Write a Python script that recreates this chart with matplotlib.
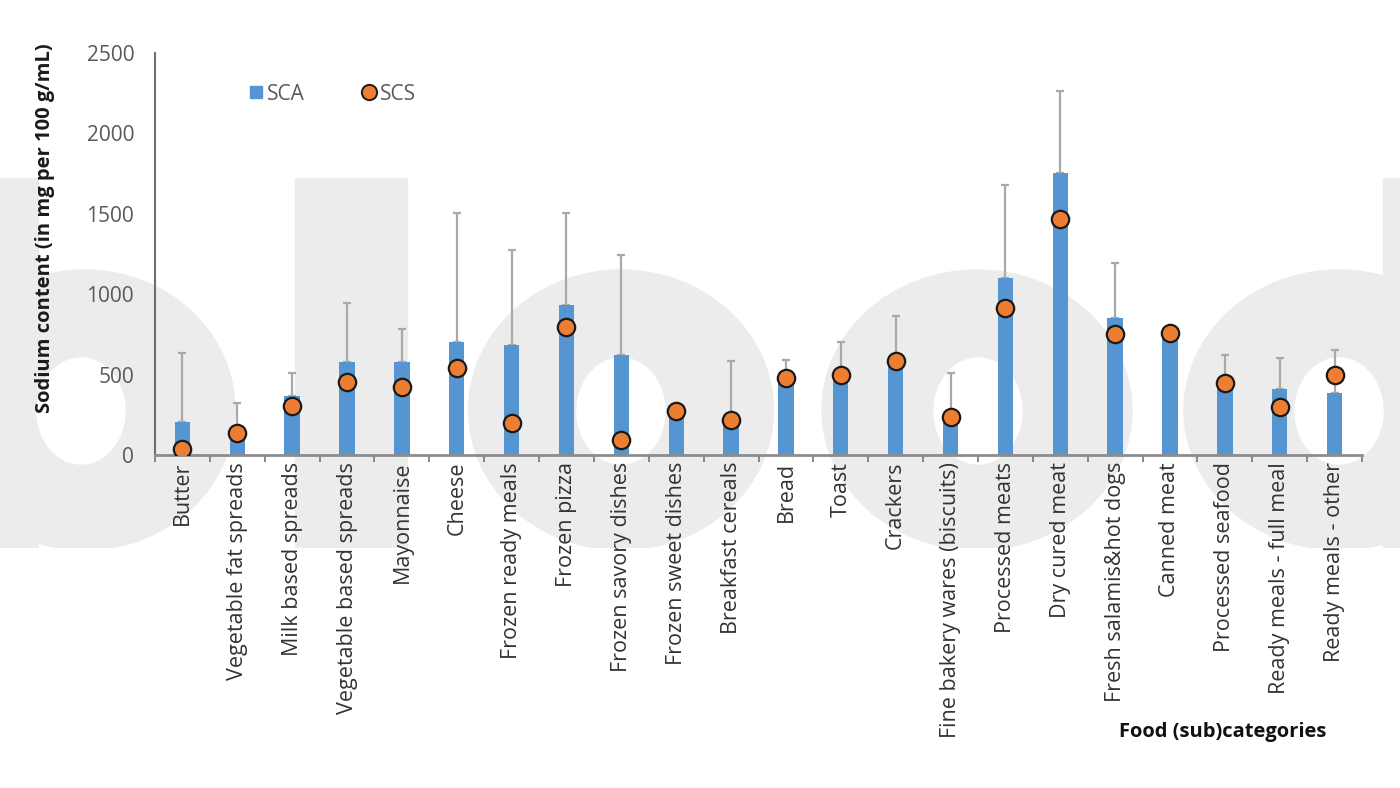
import numpy as np
import matplotlib
matplotlib.use("Agg")
import matplotlib.pyplot as plt
from matplotlib.patches import Ellipse, Rectangle
from matplotlib.lines import Line2D

categories = ["Butter", "Vegetable fat spreads", "Milk based spreads", "Vegetable based spreads",
              "Mayonnaise", "Cheese", "Frozen ready meals", "Frozen pizza", "Frozen savory dishes",
              "Frozen sweet dishes", "Breakfast cereals", "Bread", "Toast", "Crackers",
              "Fine bakery wares (biscuits)", "Processed meats", "Dry cured meat",
              "Fresh salamis&hot dogs", "Canned meat", "Processed seafood",
              "Ready meals - full meal", "Ready meals - other"]
sca = [207, 130, 370, 577, 577, 705, 684, 933, 622, 265, 200, 466, 480, 555, 200,
       1103, 1752, 854, 720, 430, 410, 384]
sca_sd = [426, 195, 138, 366, 205, 798, 591, 574, 622, 0, 387, 125, 225, 310, 308,
          576, 512, 338, 0, 192, 191, 269]
scs = [35, 135, 307, 456, 425, 539, 197, 798, 93, 276, 218, 477, 498, 587, 238,
       916, 1466, 751, 757, 446, 301, 498]
yticks = [0, 500, 1000, 1500, 2000, 2500]

W, H = 1400, 788
fig = plt.figure(figsize=(W / 100, H / 100), dpi=100)
fig.patch.set_facecolor("white")

# background watermark (decorative logo behind the chart)
bg = fig.add_axes([0, 0, 1, 1], zorder=-5)
bg.set_xlim(0, W)
bg.set_ylim(H, 0)
bg.axis("off")
wm = "#ececec"
clip = Rectangle((0, 178), W, 548 - 178, transform=bg.transData, visible=False)
bg.add_patch(clip)
shapes = [Rectangle((0, 178), 38, 370, color=wm),
          Ellipse((85, 410), 300, 280, color=wm),
          Rectangle((295, 178), 112, 370, color=wm),
          Ellipse((621, 410), 305, 280, color=wm),
          Ellipse((977, 410), 310, 280, color=wm),
          Ellipse((1339, 410), 310, 280, color=wm),
          Rectangle((1383, 178), 40, 370, color=wm)]
holes = [Ellipse((81, 411), 88, 106, color="white"),
         Ellipse((621, 411), 88, 106, color="white"),
         Ellipse((978, 411), 88, 106, color="white"),
         Ellipse((1339, 411), 88, 106, color="white")]
for p in shapes + holes:
    bg.add_patch(p)
    p.set_clip_path(clip)

ax = fig.add_axes([155 / W, 1 - 455 / H, (1362 - 155) / W, 402 / H])
ax.set_facecolor("none")
x = np.arange(len(categories))
bar_color = "#5596d2"
ax.bar(x, sca, width=0.28, color=bar_color, zorder=2)
ax.errorbar(x, sca, yerr=[np.zeros(len(sca)), sca_sd], fmt="none", ecolor="#a9a9a9",
            elinewidth=1.6, capsize=3, capthick=1.6, zorder=1)
ax.plot(x, scs, linestyle="none", marker="o", markersize=12.5,
        markerfacecolor="#ed7d31", markeredgecolor="#1a1a1a", markeredgewidth=1.6, zorder=3)

ax.set_xlim(-0.5, len(categories) - 0.5)
ax.set_ylim(0, 2500)
ax.set_yticks(yticks)
ax.set_yticklabels([str(v) for v in yticks], fontsize=15, color="#595959", family="Open Sans")
ax.tick_params(axis="y", length=0, pad=15)
ax.set_xticks(x)
ax.set_xticklabels(categories, rotation=90, fontsize=15.5, color="#333333", family="Open Sans")
ax.tick_params(axis="x", length=0, pad=5)
ax.set_xticks(np.arange(len(categories) + 1) - 0.5, minor=True)
ax.tick_params(axis="x", which="minor", length=5, width=1.3, color="#7f7f7f", direction="out")
for s in ["top", "right"]:
    ax.spines[s].set_visible(False)
ax.spines["left"].set_color("#6e6e6e")
ax.spines["left"].set_linewidth(1.5)
ax.spines["bottom"].set_color("#8c8c8c")
ax.spines["bottom"].set_linewidth(2)

fig.text(45 / W, 1 - 228 / H, "Sodium content (in mg per 100 g/mL)", rotation=90,
         ha="center", va="center", fontsize=14.5, fontweight="bold", color="#1a1a1a",
         family="Open Sans")
fig.text(1223 / W, 1 - 732 / H, "Food (sub)categories", ha="center", va="center",
         fontsize=14.5, fontweight="bold", color="#111111", family="Open Sans")

handles = [Line2D([], [], linestyle="none", marker="s", markersize=9, markerfacecolor=bar_color,
                  markeredgecolor=bar_color),
           Line2D([], [], linestyle="none", marker="o", markersize=11, markerfacecolor="#ed7d31",
                  markeredgecolor="#1a1a1a", markeredgewidth=1.4)]
leg = ax.legend(handles, ["SCA", "SCS"], ncol=2, loc="center left",
                bbox_to_anchor=(227 / W, 1 - 94 / H), bbox_transform=fig.transFigure,
                frameon=False, columnspacing=2.6, handletextpad=0.0, handlelength=1.0,
                prop={"family": "Open Sans", "size": 15})
for t in leg.get_texts():
    t.set_color("#595959")

fig.savefig("out.png", dpi=100)
